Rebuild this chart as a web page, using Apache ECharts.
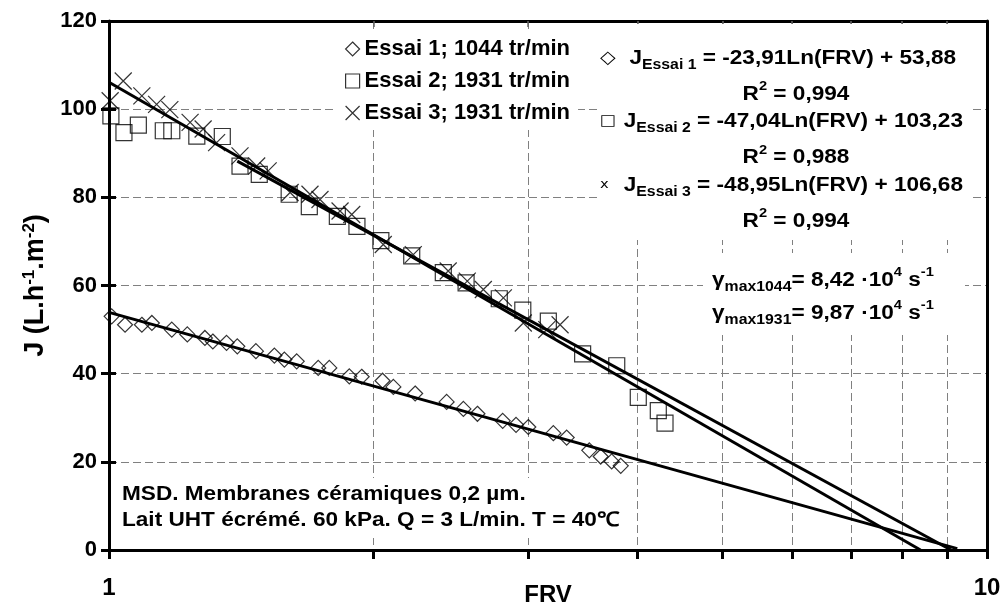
<!DOCTYPE html>
<html>
<head>
<meta charset="utf-8">
<script src="https://cdn.jsdelivr.net/npm/echarts@6/dist/echarts.min.js"></script>
<style>
  html, body { margin: 0; padding: 0; background: #fff; }
  #chart { width: 1005px; height: 609px; }
</style>
</head>
<body>
<div id="chart"></div>
<script>
// points: [FRV, J]
const essai1 = [
  [1.007, 53.0], [1.043, 51.1], [1.090, 51.1], [1.119, 51.5], [1.179, 50.0], [1.228, 48.9],
  [1.286, 48.1], [1.313, 47.3], [1.361, 47.0], [1.400, 46.2], [1.470, 45.1], [1.543, 44.1],
  [1.584, 43.2], [1.636, 42.8], [1.731, 41.3], [1.782, 41.3], [1.878, 39.4], [1.940, 39.3],
  [2.049, 38.4], [2.108, 37.0], [2.232, 35.5], [2.424, 33.6], [2.533, 32.0], [2.628, 30.9],
  [2.808, 29.3], [2.908, 28.4], [3.003, 27.9], [3.207, 26.5], [3.321, 25.5], [3.524, 22.6],
  [3.631, 21.2], [3.737, 20.1], [3.827, 19.1]
];
const essai2 = [
  [1.005, 98.5], [1.040, 94.7], [1.080, 96.4], [1.153, 95.1], [1.179, 95.1], [1.259, 93.9],
  [1.346, 93.8], [1.410, 87.1], [1.483, 85.2], [1.604, 80.7], [1.691, 77.9], [1.820, 75.7],
  [1.916, 73.4], [2.040, 70.2], [2.212, 66.7], [2.403, 62.9], [2.551, 60.6], [2.783, 57.0],
  [2.960, 54.4], [3.165, 51.9], [3.463, 44.5], [3.787, 41.8], [4.007, 34.6], [4.223, 31.6],
  [4.298, 28.8]
];
const essai3 = [
  [1.003, 101.9], [1.038, 106.4], [1.090, 103.0], [1.133, 101.1], [1.173, 99.9], [1.237, 97.0],
  [1.280, 95.5], [1.326, 92.4], [1.410, 89.4], [1.473, 87.1], [1.518, 86.0], [1.608, 81.1],
  [1.694, 80.7], [1.739, 79.5], [1.833, 76.9], [1.890, 76.1], [2.053, 69.3], [2.221, 67.0],
  [2.434, 63.3], [2.559, 61.0], [2.669, 59.1], [2.813, 57.2], [2.964, 51.5], [3.152, 50.0],
  [3.264, 51.1]
];
// trend line end points (log fits as drawn)
const trend1 = [[1, 53.9], [9.25, 0.3]];
const trend2 = [[1.4, 88.2], [9.1, 0]];
const trend3 = [[1, 106.1], [8.4, 0]];

const seriesNames = ['Essai 1; 1044 tr/min', 'Essai 2; 1931 tr/min', 'Essai 3; 1931 tr/min'];
const frvTicks = [1, 2, 3, 4, 5, 6, 7, 8, 9, 10];
const frvLabels = [1, 10];
const jMin = 0, jMax = 120, jStep = 20;

const eqLines = [
  '{mk|◇}{b|J}{sub|Essai 1}{b| = -23,91Ln(FRV) + 53,88}',
  '{mk2|□}{b|J}{sub|Essai 2}{b| = -47,04Ln(FRV) + 103,23}',
  '{mk3|x}{b|J}{sub|Essai 3}{b| = -48,95Ln(FRV) + 106,68}'
];
const r2Lines = ['0,994', '0,988', '0,994'];
const gammaLines = [
  '{b|γ}{sub|max1044}{b|= 8,42 ·10}{sup|4}{b| s}{sup|-1}',
  '{b|γ}{sub|max1931}{b|= 9,87 ·10}{sup|4}{b| s}{sup|-1}'
];
const noteLines = ['MSD. Membranes céramiques 0,2 µm.', 'Lait UHT écrémé. 60 kPa. Q = 3 L/min. T = 40℃'];

const FONT = '"Liberation Sans", Arial, sans-serif';
const SYM_X = 'path://M0,0L10,10M10,0L0,10';
const STRETCH = 1.13;

const rich = {
  b: { fontFamily: FONT, fontSize: 20, fontWeight: 'bold', fill: '#000', lineHeight: 28, verticalAlign: 'middle' },
  sub: { fontFamily: FONT, fontSize: 14, fontWeight: 'bold', fill: '#000', lineHeight: 15, verticalAlign: 'bottom' },
  sup: { fontFamily: FONT, fontSize: 13, fontWeight: 'bold', fill: '#000', lineHeight: 14, verticalAlign: 'top' },
  mk: { fontFamily: '"DejaVu Sans"', fontSize: 18, fill: '#000', width: 26, lineHeight: 28, verticalAlign: 'middle' },
  mk2: { fontFamily: '"DejaVu Sans"', fontSize: 15, fill: '#000', width: 21, lineHeight: 28, verticalAlign: 'middle' },
  mk3: { fontFamily: '"DejaVu Sans"', fontSize: 13, fill: '#000', width: 21, lineHeight: 28, verticalAlign: 'middle' }
};

function label(text, x, y, align) {
  return {
    type: 'text', x: x, y: y, z: 5, scaleX: STRETCH, silent: true,
    style: { text: text, rich: rich, align: align || 'left', verticalAlign: 'middle' }
  };
}
function whiteBox(x, y, w, h) {
  return { type: 'rect', z: 1, silent: true, shape: { x: x, y: y, width: w, height: h }, style: { fill: '#fff' } };
}

const graphics = [
  whiteBox(598, 24, 374, 216),
  whiteBox(703, 253, 262, 82),
  whiteBox(112, 478, 518, 60)
];
eqLines.forEach(function (t, i) {
  graphics.push(label(t, 600, 58 + i * 63.5, 'left'));
  graphics.push(label('{b|R}{sup|2}{b| = ' + r2Lines[i] + '}', 796, 94 + i * 63.5, 'center'));
});
gammaLines.forEach(function (t, i) {
  graphics.push(label(t, 712, 280 + i * 33, 'left'));
});
noteLines.forEach(function (t, i) {
  graphics.push(label('{b|' + t + '}', 122, 494 + i * 26, 'left'));
});

const scatterStyle = { color: 'transparent', borderColor: '#000', borderWidth: 1.2 };
const axisTextStyle = { fontFamily: FONT, fontSize: 22, fontWeight: 'bold', color: '#000' };
const gridLine = { show: true, lineStyle: { color: '#808080', width: 1, type: [8, 4] } };

const chart = echarts.init(document.getElementById('chart'));

chart.setOption({
  backgroundColor: '#fff',
  animation: false,
  grid: { left: 109, right: 18, top: 21, bottom: 59, outerBoundsMode: 'none' },
  legend: {
    data: seriesNames,
    orient: 'vertical',
    left: 337,
    top: 32,
    padding: [6, 8],
    backgroundColor: '#fff',
    itemWidth: 14,
    itemHeight: 14,
    itemGap: 10,
    selectedMode: false,
    itemStyle: { color: 'transparent', borderColor: '#000', borderWidth: 1.2 },
    textStyle: { fontFamily: FONT, fontSize: 22, fontWeight: 'bold', color: '#000', lineHeight: 22 }
  },
  xAxis: [{
    type: 'log',
    logBase: 10,
    min: 1,
    max: 10,
    position: 'bottom',
    name: 'FRV',
    nameLocation: 'middle',
    nameGap: 33,
    nameMoveOverlap: false,
    nameTextStyle: Object.assign({}, axisTextStyle, { fontSize: 24 }),
    axisLine: { show: true, onZero: false, lineStyle: { color: '#000', width: 3 } },
    axisTick: { show: true, length: 9, customValues: frvTicks, lineStyle: { color: '#000', width: 3 } },
    axisLabel: Object.assign({ customValues: frvLabels, margin: 26 }, axisTextStyle, { fontSize: 24 }),
    splitLine: gridLine,
    minorTick: { show: false }
  }, {
    type: 'log',
    logBase: 10,
    min: 1,
    max: 10,
    position: 'top',
    axisLine: { show: true, onZero: false, lineStyle: { color: '#000', width: 3 } },
    axisTick: { show: true, inside: true, length: 6, customValues: frvTicks.slice(1, -1), lineStyle: { color: '#666', width: 1.5 } },
    axisLabel: { show: false },
    splitLine: { show: false }
  }],
  yAxis: [{
    type: 'value',
    min: jMin,
    max: jMax,
    interval: jStep,
    position: 'left',
    name: '{b|J (L.h}{sup|-1}{b|.m}{sup|-2}{b|)}',
    nameLocation: 'middle',
    nameRotate: 90,
    nameGap: 58,
    nameMoveOverlap: false,
    nameTextStyle: {
      rich: {
        b: { fontFamily: FONT, fontSize: 27, fontWeight: 'bold', color: '#000', lineHeight: 30, verticalAlign: 'middle' },
        sup: { fontFamily: FONT, fontSize: 17, fontWeight: 'bold', color: '#000', lineHeight: 17, verticalAlign: 'top' }
      }
    },
    axisLine: { show: true, onZero: false, lineStyle: { color: '#000', width: 3 } },
    axisTick: { show: true, length: 8, lineStyle: { color: '#000', width: 3 } },
    axisLabel: Object.assign({ margin: 12 }, axisTextStyle),
    splitLine: gridLine
  }, {
    type: 'value',
    min: jMin,
    max: jMax,
    interval: jStep,
    position: 'left',
    axisLine: { show: false },
    axisTick: { show: true, inside: true, length: 7, lineStyle: { color: '#000', width: 3 } },
    axisLabel: { show: false },
    splitLine: { show: false }
  }, {
    type: 'value',
    min: jMin,
    max: jMax,
    interval: jStep,
    position: 'right',
    axisLine: { show: true, lineStyle: { color: '#000', width: 3 } },
    axisTick: { show: false },
    axisLabel: { show: false },
    splitLine: { show: false }
  }],
  graphic: graphics,
  series: [{
    name: seriesNames[0], type: 'scatter', data: essai1,
    symbol: 'diamond', symbolSize: 15, itemStyle: scatterStyle, z: 4
  }, {
    name: seriesNames[1], type: 'scatter', data: essai2,
    symbol: 'rect', symbolSize: 16, itemStyle: scatterStyle, z: 4
  }, {
    name: seriesNames[2], type: 'scatter', data: essai3,
    symbol: SYM_X, symbolSize: 17, itemStyle: scatterStyle, z: 4
  }, {
    name: 'trend1', type: 'line', data: trend1, symbol: 'none', silent: true, z: 3,
    lineStyle: { color: '#000', width: 3 }
  }, {
    name: 'trend2', type: 'line', data: trend2, symbol: 'none', silent: true, z: 3,
    lineStyle: { color: '#000', width: 3 }
  }, {
    name: 'trend3', type: 'line', data: trend3, symbol: 'none', silent: true, z: 3,
    lineStyle: { color: '#000', width: 3 }
  }]
});
</script>
</body>
</html>
